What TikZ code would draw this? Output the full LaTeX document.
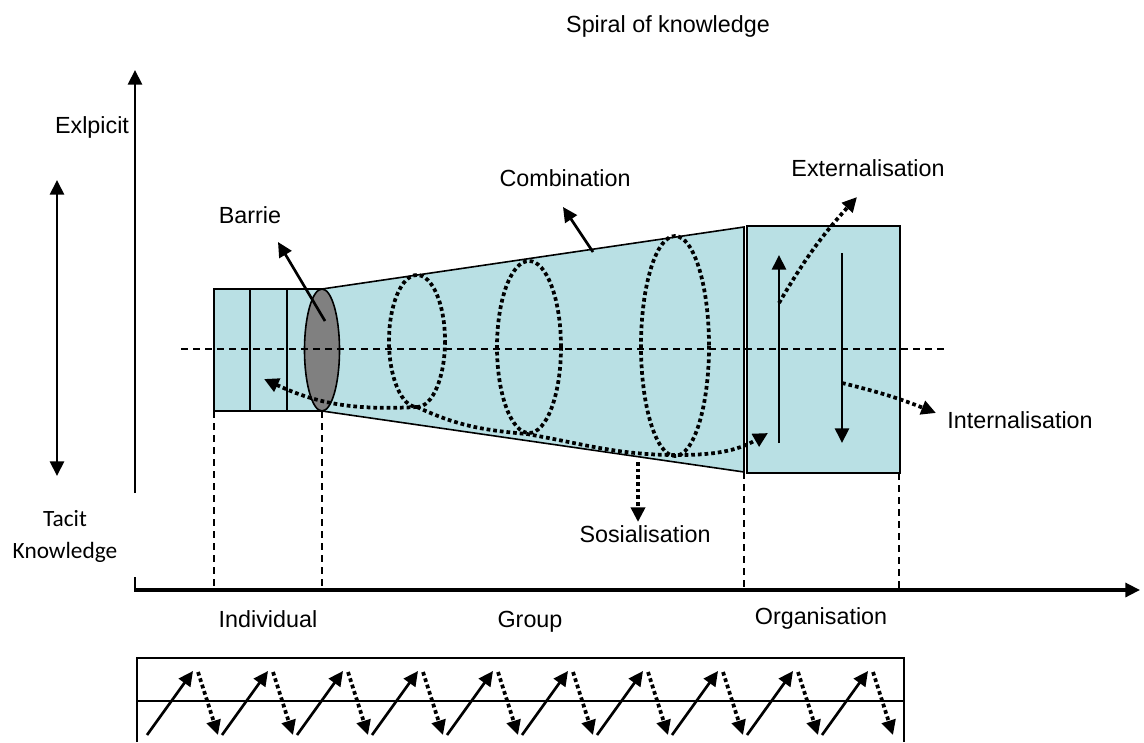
\documentclass[tikz,border=0pt]{standalone}
\usepackage{fontspec}
\setmainfont{Liberation Sans}
\newfontfamily\calibri{Carlito}
\usetikzlibrary{arrows.meta}
\definecolor{conefill}{RGB}{185,224,228}
\definecolor{barriergray}{RGB}{128,128,128}
\tikzset{
  tip/.style={-{Triangle[length=11pt,width=10.5pt]}},
  solidarrow/.style={line width=2pt, tip},
  dots/.style={line width=2.8pt, dash pattern=on 2.8pt off 2.2pt},
  dotarrow/.style={dots, tip},
  guide/.style={line width=0.9pt, dash pattern=on 5.5pt off 3.5pt},
  part/.style={draw, line width=1.2pt, fill=conefill},
  lbl/.style={font=\fontsize{17.5}{20}\selectfont},
  tacitlbl/.style={font=\calibri\fontsize{17.5}{20}\selectfont},
}
\begin{document}
\begin{tikzpicture}[x=0.75pt, y=-0.75pt]
\useasboundingbox (0,0) rectangle (1144,742);

\node[lbl] (title) at (668,26) {Spiral of knowledge};

\draw[line width=2.2pt, tip] (135,493) -- (135,70);
\draw[line width=2.2pt] (135,577) -- (135,590);
\draw[line width=2.4pt, tip] (134,590) -- (1140,590);
\draw[line width=2pt, {Triangle[length=11pt,width=10.5pt]}-{Triangle[length=11pt,width=10.5pt]}] (57,180) -- (57,476);

\node[lbl] (explicit) at (92,127) {Exlpicit};
\node[tacitlbl] (tacit) at (65,519) {Tacit};
\node[tacitlbl] (knowledge) at (65,552) {Knowledge};

\draw[part] (322,289) -- (744,227) -- (744,472) -- (322,411) -- cycle;
\foreach \xa/\xb in {214/250, 250/287, 287/323}
  \draw[part] (\xa,289) rectangle (\xb,411);
\draw[part] (747,226) rectangle (900,473);
\coordinate (barrier) at (322,350);
\draw[line width=1.2pt, fill=barriergray] (barrier) ellipse (17.5 and 61);

\draw[guide] (181,349) -- (946,349);
\foreach \x/\y in {214/411, 322/411, 744/472, 899/473}
  \draw[guide] (\x,\y) -- (\x,589);

\draw[dots] (417,341) ellipse (28 and 66);
\draw[dots] (529,347) ellipse (32 and 86);
\draw[dots] (675,346) ellipse (34 and 110);

\coordinate (ring1) at (417,407);
\coordinate (ring2) at (527,434);
\coordinate (ring3) at (677,455);
\coordinate (backtip) at (264,379);
\coordinate (intotip) at (768,433);
\draw[dotarrow] (ring1) to[out=183, in=-25] (backtip);
\draw[dotarrow] (ring1) to[out=-25, in=175] (ring2) to[out=-10, in=180] (ring3)
  to[out=0, in=-150] (intotip);

\node[lbl] (barrielbl) at (250,215) {Barrie};
\coordinate (barrierstart) at (325,321);
\coordinate (barriertip) at (278,242);
\draw[solidarrow] (barrierstart) -- (barriertip);

\node[lbl] (combination) at (565,178) {Combination};
\coordinate (combstart) at (593,252);
\coordinate (combtip) at (563,207);
\draw[solidarrow] (combstart) -- (combtip);

\coordinate (upstart) at (779,443);
\coordinate (uptip) at (779,255);
\coordinate (downstart) at (842,253);
\coordinate (downtip) at (842,443);
\draw[solidarrow] (upstart) -- (uptip);
\draw[solidarrow] (downstart) -- (downtip);

\node[lbl] (externalisation) at (868,168) {Externalisation};
\coordinate (extstart) at (779,303);
\coordinate (exttip) at (857,197);
\draw[dotarrow] (extstart) to[bend left=6] (exttip);

\node[lbl] (internalisation) at (1020,420) {Internalisation};
\coordinate (intstart) at (842,383);
\coordinate (inttip) at (936,413);
\draw[dotarrow] (intstart) to[bend left=4] (inttip);

\node[lbl] (sosialisation) at (645,534) {Sosialisation};
\coordinate (sosstart) at (638,462);
\draw[dotarrow] (sosstart) -- (638,522);

\node[lbl] (individual) at (268,619) {Individual};
\node[lbl] (group) at (530,622) {Group};
\node[lbl] (organisation) at (821,618) {Organisation};

\draw[line width=1.2pt] (137,742) -- (137,658) -- (904,658) -- (904,742);
\draw[line width=1.2pt] (137,701) -- (904,701);
\foreach \s in {147,222,...,822} {
  \draw[solidarrow] (\s,735) -- (\s+46,671);
  \draw[dotarrow] (\s+51,672) -- (\s+71,735);
}
\end{tikzpicture}
\end{document}
